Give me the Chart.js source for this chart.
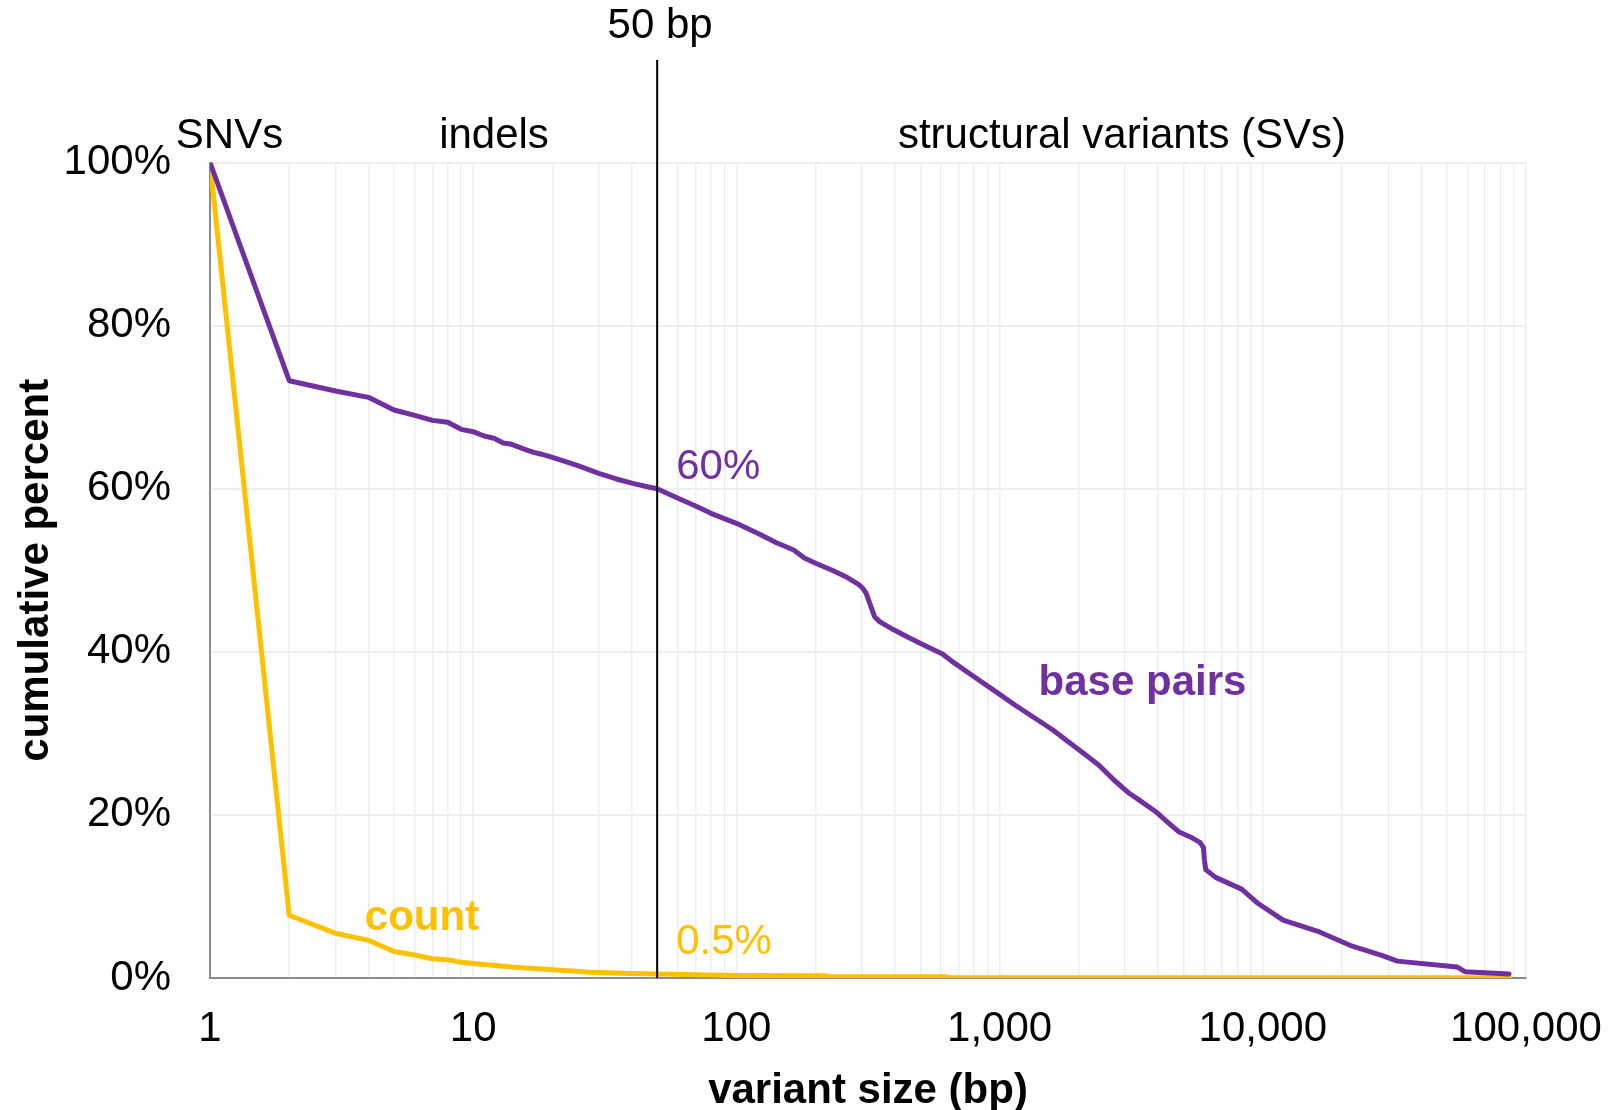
<!DOCTYPE html>
<html>
<head>
<meta charset="utf-8">
<title>Cumulative variant size distribution</title>
<script src="https://cdn.jsdelivr.net/npm/chart.js@4/dist/chart.umd.min.js"></script>
<style>
  html, body { margin: 0; padding: 0; background: #ffffff; }
  canvas { display: block; }
</style>
</head>
<body>
<canvas id="chart" width="1614" height="1110"></canvas>
<script>
// Cumulative share of the genome (by base pairs) and of all variants (by count)
// contributed by variants at least as large as a given size.
const sizesBasePairs = [
  1, 2, 3, 4, 5, 6, 7, 8, 9, 10,
  11, 12, 13, 14, 15, 16, 17, 18, 19, 20,
  25, 30, 35, 40, 45, 50, 60, 70, 80, 100,
  122, 142, 165, 182, 200, 230, 263, 290, 300, 311,
  321, 335, 350, 393, 449, 531, 607, 670, 790, 967,
  1143, 1396, 1594, 1823, 2083, 2380, 2720, 3107, 3321, 3920,
  4478, 4790, 5280, 5768, 5950, 6000, 6070, 6616, 8307, 9508,
  11940, 16420, 21560, 28310, 32460, 54700, 58610, 86300
];
const pctBasePairs = [
  100, 73.24, 71.98, 71.2, 69.65, 69.0, 68.38, 68.14, 67.28, 66.99,
  66.46, 66.18, 65.6, 65.44, 65.07, 64.74, 64.46, 64.26, 64.05, 63.85,
  62.82, 61.89, 61.19, 60.68, 60.3, 60, 58.82, 57.88, 56.98, 55.75,
  54.45, 53.38, 52.48, 51.46, 50.85, 50.03, 49.13, 48.3, 47.9, 47.2,
  45.95, 44.31, 43.7, 42.76, 41.78, 40.63, 39.73, 38.67, 37.07, 35.11,
  33.48, 31.64, 30.41, 28.98, 27.55, 26.12, 24.28, 22.65, 22.03, 20.39,
  18.76, 17.94, 17.33, 16.63, 16.0, 14.5, 13.29, 12.34, 10.9, 9.23,
  7.09, 5.65, 3.98, 2.78, 2.07, 1.36, 0.78, 0.5
];

const sizesCount = [
  1, 2, 3, 4, 5, 6, 7, 8, 9, 10,
  14, 20, 28, 40, 50, 100, 215, 225, 620, 650, 86300
];
const pctCount = [
  100, 7.7, 5.48, 4.62, 3.24, 2.82, 2.36, 2.25, 1.92, 1.77,
  1.34, 1.0, 0.71, 0.55, 0.5, 0.3, 0.28, 0.18, 0.15, 0.03, 0.02
];

const xTickValues = [1, 10, 100, 1000, 10000, 100000];
const xTickLabels = ['1', '10', '100', '1,000', '10,000', '100,000'];
const yTickValues = [0, 20, 40, 60, 80, 100];

const svThreshold = 50;
const svThresholdLabel = '50 bp';
const regionLabels = ['SNVs', 'indels', 'structural variants (SVs)'];
const seriesNames = ['base pairs', 'count'];

const PURPLE = '#7030A0';
const GOLD = '#FFC000';
const FONT = '"Liberation Sans", Arial, Helvetica, sans-serif';

function toPoints(xs, ys) {
  return xs.map((x, i) => ({ x, y: ys[i] }));
}

function valueAt(xs, ys, x) {
  const i = xs.indexOf(x);
  return i >= 0 ? ys[i] : null;
}

const annotations = {
  id: 'annotations',
  afterDatasetsDraw(chart) {
    const { ctx, chartArea, scales: { x } } = chart;
    const xs = x.getPixelForValue(svThreshold);
    ctx.save();

    // 50 bp boundary between indels and structural variants
    ctx.strokeStyle = '#000000';
    ctx.lineWidth = 2;
    ctx.beginPath();
    ctx.moveTo(xs, 60);
    ctx.lineTo(xs, chartArea.bottom);
    ctx.stroke();

    ctx.textBaseline = 'alphabetic';
    ctx.font = '42px ' + FONT;
    ctx.fillStyle = '#000000';
    ctx.textAlign = 'center';
    ctx.fillText(svThresholdLabel, xs + 3, 38);

    // variant class headings
    const headingX = [229.5, 494, 1122];
    regionLabels.forEach((t, i) => ctx.fillText(t, headingX[i], 148));

    // values at the 50 bp boundary
    const bpAt = valueAt(sizesBasePairs, pctBasePairs, svThreshold);
    const cntAt = valueAt(sizesCount, pctCount, svThreshold);
    ctx.textAlign = 'left';
    ctx.fillStyle = PURPLE;
    ctx.fillText(bpAt + '%', xs + 19, 478.5);
    ctx.fillStyle = GOLD;
    ctx.fillText(cntAt + '%', xs + 19, 954);

    // series names
    ctx.font = 'bold 42px ' + FONT;
    ctx.textAlign = 'center';
    ctx.fillStyle = GOLD;
    ctx.fillText(seriesNames[1], 422, 929.5);
    ctx.fillStyle = PURPLE;
    ctx.fillText(seriesNames[0], 1142.5, 695);

    ctx.restore();
  }
};

new Chart(document.getElementById('chart'), {
  type: 'line',
  data: {
    datasets: [
      {
        label: seriesNames[0],
        data: toPoints(sizesBasePairs, pctBasePairs),
        borderColor: PURPLE,
        borderWidth: 5,
        pointRadius: 0,
        tension: 0,
        borderJoinStyle: 'round',
        borderCapStyle: 'round',
        fill: false
      },
      {
        label: seriesNames[1],
        data: toPoints(sizesCount, pctCount),
        borderColor: GOLD,
        borderWidth: 5,
        pointRadius: 0,
        tension: 0,
        borderJoinStyle: 'round',
        borderCapStyle: 'round',
        fill: false
      }
    ]
  },
  options: {
    responsive: false,
    animation: false,
    events: [],
    layout: { padding: { top: 162.5, right: 88, left: 0, bottom: 0 } },
    plugins: {
      legend: { display: false },
      tooltip: { enabled: false }
    },
    scales: {
      x: {
        type: 'logarithmic',
        min: 1,
        max: 100000,
        afterBuildTicks(scale) {
          const ticks = [];
          for (let k = 0; k < 5; k++) {
            const p = Math.pow(10, k);
            for (let d = 1; d < 10; d++) ticks.push({ value: d * p });
          }
          ticks.push({ value: 100000 });
          scale.ticks = ticks;
        },
        afterFit(scale) {
          scale.height = 132;
          scale.paddingLeft = 0;
          scale.paddingRight = 0;
        },
        grid: { color: '#eeeeee', lineWidth: 1.5, drawTicks: false },
        border: { color: '#8c8c8c', width: 2 },
        ticks: {
          autoSkip: false,
          maxRotation: 0,
          padding: 26,
          color: '#000000',
          font: { family: FONT, size: 42 },
          callback(value) {
            const i = xTickValues.indexOf(value);
            return i >= 0 ? xTickLabels[i] : '';
          }
        },
        title: {
          display: true,
          text: 'variant size (bp)',
          color: '#000000',
          font: { family: FONT, size: 42, weight: 'bold', lineHeight: 1 },
          padding: { top: 0, bottom: -2.5 }
        }
      },
      y: {
        min: 0,
        max: 100,
        afterBuildTicks(scale) {
          scale.ticks = yTickValues.map(v => ({ value: v }));
        },
        afterFit(scale) {
          scale.width = 210;
          scale.paddingTop = 0;
          scale.paddingBottom = 0;
        },
        grid: { color: '#eeeeee', lineWidth: 2, drawTicks: false },
        border: { color: '#8c8c8c', width: 2 },
        ticks: {
          padding: 39,
          color: '#000000',
          font: { family: FONT, size: 42 },
          callback: v => v + '%'
        },
        title: {
          display: true,
          text: 'cumulative percent',
          color: '#000000',
          font: { family: FONT, size: 42, weight: 'bold', lineHeight: 1 },
          padding: { top: 15.5, bottom: 0 }
        }
      }
    }
  },
  plugins: [annotations]
});
</script>
</body>
</html>
